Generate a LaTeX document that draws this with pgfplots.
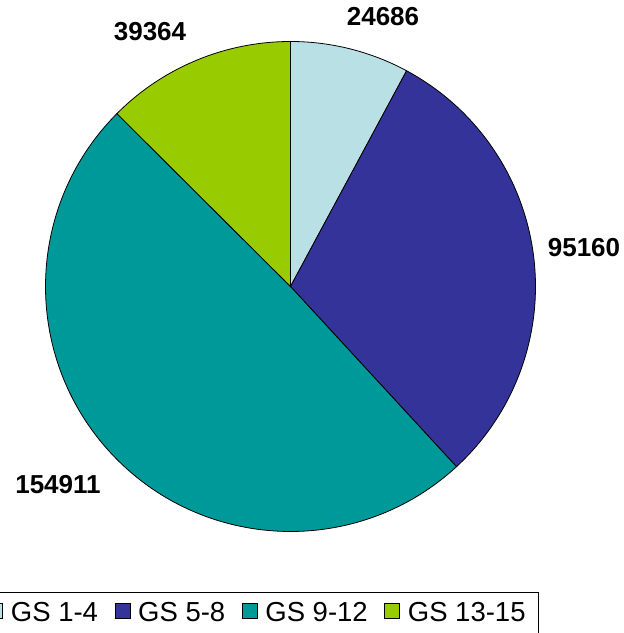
\documentclass[border=0pt]{standalone}
\usepackage{fontspec}
\setmainfont{Liberation Sans}
\usepackage{pgfplots}
\usepackage{pgfplotstable}
\pgfplotsset{compat=1.18}
\definecolor{c1}{HTML}{B9E1E5}
\definecolor{c2}{HTML}{333399}
\definecolor{c3}{HTML}{009999}
\definecolor{c4}{HTML}{99CC00}

\pgfplotstableread{
value lx ly
24686 383 616
95160 584 385
154911 58 148
39364 150 601
}\piedata

\begin{document}
\begin{tikzpicture}
\pgfplotstablegetelem{0}{value}\of\piedata \edef\va{\pgfplotsretval}
\pgfplotstablegetelem{1}{value}\of\piedata \edef\vb{\pgfplotsretval}
\pgfplotstablegetelem{2}{value}\of\piedata \edef\vc{\pgfplotsretval}
\pgfplotstablegetelem{3}{value}\of\piedata \edef\vd{\pgfplotsretval}
\edef\T{\fpeval{\va+\vb+\vc+\vd}}
\edef\aA{90}
\edef\aB{\fpeval{round(90-360*\va/\T,4)}}
\edef\aC{\fpeval{round(\aB-360*\vb/\T,4)}}
\edef\aD{\fpeval{round(\aC-360*\vc/\T,4)}}
\edef\aE{-270}
\begin{axis}[
  scale only axis, width=624pt, height=633pt,
  xmin=0, xmax=624, ymin=0, ymax=633,
  hide axis,
  clip=false,
  legend columns=4,
  legend image code/.code={\draw[#1] (0pt,-6pt) rectangle (15pt,9pt);},
  legend style={at={(539/624,41/633)}, anchor=north east, draw=black, line width=0.8pt,
    font=\fontsize{27.5}{30}\selectfont, inner ysep=8pt, inner xsep=11pt,
    /tikz/every odd column/.append style={column sep=6pt},
    /tikz/every even column/.append style={column sep=14.5pt}},
]
\addlegendimage{fill=c1, draw=black, line width=0.6pt}
\addlegendentry{GS 1-4}
\addlegendimage{fill=c2, draw=black, line width=0.6pt}
\addlegendentry{GS 5-8}
\addlegendimage{fill=c3, draw=black, line width=0.6pt}
\addlegendentry{GS 9-12}
\addlegendimage{fill=c4, draw=black, line width=0.6pt}
\addlegendentry{GS 13-15}
\filldraw[fill=c1, draw=black, line width=0.8pt] (axis cs:290.5,346.5) -- ++(\aA:245pt) arc[start angle=\aA, end angle=\aB, radius=245pt] -- cycle;
\filldraw[fill=c2, draw=black, line width=0.8pt] (axis cs:290.5,346.5) -- ++(\aB:245pt) arc[start angle=\aB, end angle=\aC, radius=245pt] -- cycle;
\filldraw[fill=c3, draw=black, line width=0.8pt] (axis cs:290.5,346.5) -- ++(\aC:245pt) arc[start angle=\aC, end angle=\aD, radius=245pt] -- cycle;
\filldraw[fill=c4, draw=black, line width=0.8pt] (axis cs:290.5,346.5) -- ++(\aD:245pt) arc[start angle=\aD, end angle=\aE, radius=245pt] -- cycle;
\node[font=\bfseries\fontsize{26}{26}\selectfont] at (axis cs:383,616) {24686};
\node[font=\bfseries\fontsize{26}{26}\selectfont] at (axis cs:584,385) {95160};
\node[font=\bfseries\fontsize{26}{26}\selectfont] at (axis cs:58,148) {154911};
\node[font=\bfseries\fontsize{26}{26}\selectfont] at (axis cs:150,601) {39364};
\end{axis}
\pgfresetboundingbox
\path[use as bounding box] (0,0) rectangle (624pt,633pt);
\end{tikzpicture}
\end{document}
